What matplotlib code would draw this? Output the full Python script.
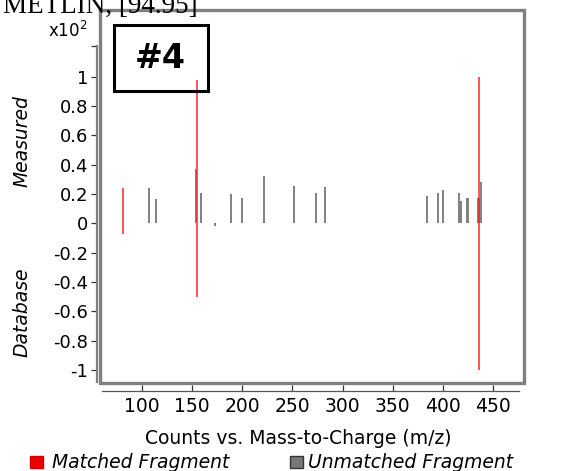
import matplotlib.pyplot as plt
from matplotlib.patches import Rectangle

plt.rcParams['font.family'] = ['DejaVu Sans']

# matched fragments: m/z, measured intensity (x10^2), database intensity (x10^2)
matched_mz = [81.0, 155.0, 436.3]
matched_measured = [0.24, 0.98, 1.00]
matched_database = [-0.07, -0.50, -1.00]

# unmatched fragments (measured side)
unmatched_mz = [106.7, 114.0, 153.8, 159.0, 189.0, 200.0, 222.0, 251.2, 273.5,
                282.2, 383.8, 394.8, 400.1, 415.7, 417.7, 424.5, 425.5, 435.4,
                436.0, 437.7]
unmatched_measured = [0.24, 0.164, 0.37, 0.21, 0.20, 0.17, 0.323, 0.257, 0.21,
                      0.25, 0.184, 0.205, 0.227, 0.205, 0.154, 0.171, 0.171,
                      0.171, 0.171, 0.282]

# unmatched fragments (database side)
unmatched_db_mz = [172.5]
unmatched_db_val = [-0.02]

y_ticks = [-1, -0.8, -0.6, -0.4, -0.2, 0, 0.2, 0.4, 0.6, 0.8, 1]
y_labels = ['-1', '-0.8', '-0.6', '-0.4', '-0.2', '0', '0.2', '0.4', '0.6', '0.8', '1']
x_ticks = [100, 150, 200, 250, 300, 350, 400, 450]

W, H = 563, 471
fig = plt.figure(figsize=(W / 100, H / 100), dpi=100)


def fx(px):
    return px / W


def fy(py):
    return 1 - py / H


ax = fig.add_axes([fx(100), fy(383), fx(524) - fx(100), fy(10) - fy(383)])
ax.set_xlim(58, 481)
ax.set_ylim(-1.09, 1.456)

red = '#f02828'
grey = '#808080'

ax.vlines(unmatched_mz, 0, unmatched_measured, color=grey, lw=1.4)
ax.vlines(unmatched_db_mz, 0, unmatched_db_val, color=grey, lw=1.4)
ax.vlines(matched_mz, matched_database, matched_measured, color=red, lw=1.1)

# outer frame
ax.add_patch(Rectangle((0, 0), 1, 1, transform=ax.transAxes, fill=False,
                       ec=grey, lw=2.4, clip_on=False, zorder=5))

for s in ['top', 'right']:
    ax.spines[s].set_visible(False)
ax.spines['left'].set_position(('outward', 2.5))
ax.spines['left'].set_bounds(-1.08, 1.21)
ax.spines['left'].set_color(grey)
ax.spines['left'].set_linewidth(1.6)
ax.spines['bottom'].set_position(('outward', 5.8))
ax.spines['bottom'].set_bounds(60, 476)
ax.spines['bottom'].set_color('#555555')
ax.spines['bottom'].set_linewidth(0.9)

ax.set_yticks(y_ticks)
ax.set_yticklabels(y_labels)
ax.set_yticks([1.21], minor=True)
ax.set_xticks(x_ticks)
ax.tick_params(axis='y', which='both', direction='out', length=4, width=0.9,
               color='#333333', labelsize=13, pad=2)
ax.tick_params(axis='x', direction='in', length=4, width=0.9, color='#333333',
               labelsize=13.5, pad=4)

# badge
ax.add_patch(Rectangle((fx(114), fy(91)), fx(208) - fx(114), fy(25) - fy(91),
                       transform=fig.transFigure, fill=False, ec='black',
                       lw=2.2, zorder=6))
fig.text(fx(160), fy(58), '#4', fontsize=24, fontweight='bold',
         ha='center', va='center')

fig.text(fx(87), fy(31), r'x10$^2$', fontsize=12, ha='right', va='center')
fig.text(fx(22), fy(141), 'Measured', fontsize=13.5, style='italic',
         rotation=90, ha='center', va='center')
fig.text(fx(22), fy(312), 'Database', fontsize=13.5, style='italic',
         rotation=90, ha='center', va='center')

fig.text(fx(298), fy(439), 'Counts vs. Mass-to-Charge (m/z)', fontsize=13.5,
         ha='center', va='center')

# legend
fig.patches.append(Rectangle((fx(30), fy(468)), fx(43) - fx(30), fy(456) - fy(468),
                             transform=fig.transFigure, fc='#ee0000', ec='#cc0000'))
fig.text(fx(52), fy(462), 'Matched Fragment', fontsize=13.5, style='italic',
         ha='left', va='center')
fig.patches.append(Rectangle((fx(290), fy(468)), fx(303) - fx(290), fy(456) - fy(468),
                             transform=fig.transFigure, fc='#777777', ec='#333333',
                             lw=1))
fig.text(fx(308), fy(462), 'Unmatched Fragment', fontsize=13.5, style='italic',
         ha='left', va='center')

# source line clipped at the top edge
fig.text(fx(198), fy(13), 'METLIN, [94.95]', fontsize=19.5,
         family=['Liberation Serif', 'DejaVu Serif'], ha='right', va='baseline')

fig.savefig('out.png', dpi=100)
